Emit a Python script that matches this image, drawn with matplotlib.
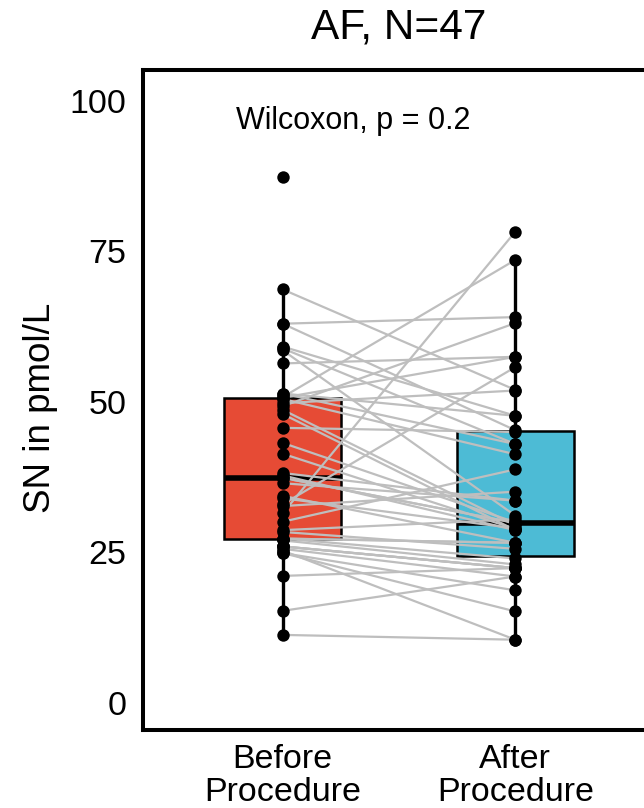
import numpy as np
import matplotlib
matplotlib.use('Agg')
import matplotlib.pyplot as plt

plt.rcParams['font.family'] = ['Liberation Sans', 'DejaVu Sans']

# paired values, one entry per patient (after missing for the top outlier)
before = [87.4, 68.7, 63.0, 63.0, 59.2, 58.9, 58.6, 56.4, 51.4, 51.4, 50.8, 50.7,
          50.5, 49.8, 49.3, 48.7, 48.0, 45.7, 43.2, 41.4, 38.2, 37.8, 37.4, 37.4,
          36.5, 34.4, 34.0, 33.0, 32.7, 31.5, 30.1, 27.3, 28.7, 28.4, 27.3, 26.0,
          27.3, 27.0, 26.0, 26.0, 25.6, 25.3, 24.9, 24.9, 21.1, 15.3, 11.3]
after = [np.nan, 52.0, 64.1, 45.3, 47.7, 43.0, 31.1, 57.5, 43.0, 47.7, 73.6, 57.5,
         41.3, 51.9, 63.1, 29.5, 28.7, 45.0, 30.0, 28.9, 33.6, 28.7, 29.9, 29.9,
         33.6, 26.6, 29.0, 55.8, 35.1, 78.3, 38.8, 26.6, 30.5, 25.6, 26.6, 22.4,
         24.0, 23.0, 22.4, 22.4, 21.0, 10.5, 18.7, 15.2, 22.4, 21.0, 10.5]

groups = ['Before\nProcedure', 'After\nProcedure']
box_colors = ['#E64B35', '#4DBBD5']
yticks = [0, 25, 50, 75, 100]
title = 'AF, N=47'
stat_label = 'Wilcoxon, p = 0.2'

before = np.array(before)
after = np.array(after)

fig = plt.figure(figsize=(6.44, 8.08), dpi=100)
ax = fig.add_axes([143 / 644, 78 / 808, 512 / 644, 660 / 808])

data = [before[~np.isnan(before)], after[~np.isnan(after)]]
bp = ax.boxplot(data, positions=[1, 2], widths=0.5, patch_artist=True,
                showfliers=False, showcaps=False, whis=1.5,
                boxprops=dict(linewidth=1.8, edgecolor='black'),
                whiskerprops=dict(linewidth=2.4, color='black'),
                medianprops=dict(linewidth=4.0, color='black'))
for patch, c in zip(bp['boxes'], box_colors):
    patch.set_facecolor(c)
    patch.set_zorder(1)
for w in bp['whiskers']:
    w.set_zorder(1)
for m in bp['medians']:
    m.set_zorder(1.5)

# connecting lines between paired samples
for b, a in zip(before, after):
    if not (np.isnan(b) or np.isnan(a)):
        ax.plot([1, 2], [b, a], color='#BEBEBE', lw=1.6, zorder=2)

ax.scatter(np.ones(len(before)), before, s=80, color='black', zorder=3, linewidths=0)
ax.scatter(np.full(len(after), 2), after, s=80, color='black', zorder=3, linewidths=0)

ax.text(0.8, 96.7, stat_label, fontsize=22, ha='left', va='center')

ax.set_xlim(0.4, 2.6)
ax.set_ylim(-4.5, 105.15)
ax.set_xticks([1, 2])
ax.set_xticklabels(groups, fontsize=24.5, linespacing=1.08)
ax.set_yticks(yticks)
ax.set_yticklabels([str(t) for t in yticks], fontsize=24.5)
ax.tick_params(length=0, pad=12)
ax.tick_params(axis='x', pad=10)
ax.set_ylabel('SN in pmol/L', fontsize=26.5)
ax.yaxis.set_label_coords(-0.166, 0.488)
ax.set_title(title, fontsize=30.5, pad=23)
for s in ax.spines.values():
    s.set_linewidth(2.9)

plt.savefig('out.png', dpi=100)
